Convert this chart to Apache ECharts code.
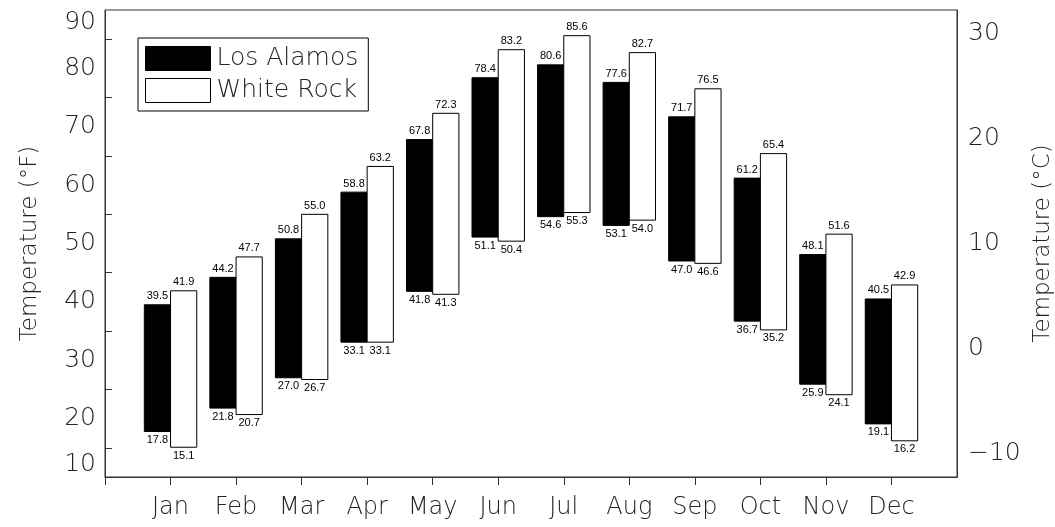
<!DOCTYPE html>
<html>
<head>
<meta charset="utf-8">
<title>Monthly temperature ranges — Los Alamos and White Rock</title>
<script src="https://cdn.jsdelivr.net/npm/echarts@6/dist/echarts.min.js"></script>
<style>
  html, body { margin: 0; padding: 0; background: #fff; }
  #chart { width: 1055px; height: 527px; }
</style>
</head>
<body>
<div id="chart"></div>
<script>
// Month slots: an empty slot at each end so the months sit one step in from the frame
const months = ['', 'Jan', 'Feb', 'Mar', 'Apr', 'May', 'Jun', 'Jul', 'Aug', 'Sep', 'Oct', 'Nov', 'Dec', ''];

// Mean daily minimum / maximum temperatures (°F)
const losAlamosLow  = [17.8, 21.8, 27.0, 33.1, 41.8, 51.1, 54.6, 53.1, 47.0, 36.7, 25.9, 19.1];
const losAlamosHigh = [39.5, 44.2, 50.8, 58.8, 67.8, 78.4, 80.6, 77.6, 71.7, 61.2, 48.1, 40.5];
const whiteRockLow  = [15.1, 20.7, 26.7, 33.1, 41.3, 50.4, 55.3, 54.0, 46.6, 35.2, 24.1, 16.2];
const whiteRockHigh = [41.9, 47.7, 55.0, 63.2, 72.3, 83.2, 85.6, 82.7, 76.5, 65.4, 51.6, 42.9];

// Axis ranges and ticks
const fMin = 10, fMax = 90;
const celsiusTicks = [-10, -5, 0, 5, 10, 15, 20, 25, 30];
const celsiusLabels = [-10, 0, 10, 20, 30];

const toC = f => (f - 32) / 1.8;

const axisFont = 'DejaVu Sans';
const axisWeight = 200;
const labelFont = 'Liberation Sans';
const frameColor = '#333';
const textColor = '#222';

function rangeData(low, high) {
  return low.map((lo, i) => [i + 1, lo, high[i]]);
}

// Floating bar with its high value above and low value below
function makeRenderer(side, fill) {
  return function (params, api) {
    const idx = api.value(0);
    const lo = api.value(1);
    const hi = api.value(2);
    const pLo = api.coord([idx, lo]);
    const pHi = api.coord([idx, hi]);
    const w = api.size([1, 0])[0] * 0.4;
    const x0 = side < 0 ? pLo[0] - w : pLo[0];
    const cx = x0 + w / 2;
    return {
      type: 'group',
      children: [
        {
          type: 'rect',
          shape: { x: x0, y: pHi[1], width: w, height: pLo[1] - pHi[1] },
          style: { fill: fill, stroke: '#000', lineWidth: 1 }
        },
        {
          type: 'text',
          style: {
            text: hi.toFixed(1), x: cx, y: pHi[1] - 3,
            align: 'center', verticalAlign: 'bottom',
            fontSize: 11, fontFamily: labelFont, fill: '#000'
          }
        },
        {
          type: 'text',
          style: {
            text: lo.toFixed(1), x: cx, y: pLo[1] + 3,
            align: 'center', verticalAlign: 'top',
            fontSize: 11, fontFamily: labelFont, fill: '#000'
          }
        }
      ]
    };
  };
}

const chart = echarts.init(document.getElementById('chart'), null, { renderer: 'canvas' });

const axisText = { fontFamily: axisFont, fontWeight: axisWeight, color: textColor };

chart.setOption({
  animation: false,
  backgroundColor: '#fff',
  grid: {
    left: 105, right: 98, top: 10, bottom: 50,
    containLabel: false,
    outerBoundsMode: 'none',
    show: true, borderColor: frameColor, borderWidth: 1
  },
  legend: {
    left: 138, top: 38,
    orient: 'vertical',
    padding: [8, 10, 8, 7],
    itemWidth: 65, itemHeight: 24, itemGap: 7,
    borderColor: '#000', borderWidth: 1,
    icon: 'rect',
    selectedMode: false,
    textStyle: Object.assign({ fontSize: 25, lineHeight: 24, padding: [0, 0, 0, 1] }, axisText),
    data: [
      { name: 'Los Alamos', itemStyle: { color: '#000', borderColor: '#000', borderWidth: 1 } },
      { name: 'White Rock', itemStyle: { color: '#fff', borderColor: '#000', borderWidth: 1 } }
    ]
  },
  xAxis: {
    type: 'category',
    data: months,
    boundaryGap: false,
    axisLine: { onZero: false, lineStyle: { color: frameColor, width: 1 } },
    axisTick: {
      inside: false, length: 8,
      interval: (i) => i <= 12,
      lineStyle: { color: frameColor }
    },
    axisLabel: Object.assign({ interval: 0, margin: 19, fontSize: 24 }, axisText),
    splitLine: { show: false }
  },
  yAxis: [
    {
      type: 'value',
      min: fMin, max: fMax, interval: 10,
      position: 'left',
      name: 'Temperature (°F)',
      nameLocation: 'middle',
      nameGap: 63,
      nameTextStyle: Object.assign({ fontSize: 23 }, axisText),
      axisLine: { show: true, onZero: false, lineStyle: { color: frameColor, width: 1 } },
      axisTick: { inside: true, length: 7, lineStyle: { color: frameColor } },
      minorTick: { show: true, splitNumber: 2, length: 7, lineStyle: { color: frameColor } },
      axisLabel: Object.assign({
        margin: 9, fontSize: 25,
        verticalAlignMinLabel: 'bottom', verticalAlignMaxLabel: 'top'
      }, axisText),
      splitLine: { show: false }
    },
    {
      type: 'value',
      min: toC(fMin), max: toC(fMax),
      position: 'right',
      name: 'Temperature (°C)',
      nameLocation: 'middle',
      nameGap: 68,
      nameTextStyle: Object.assign({ fontSize: 23 }, axisText),
      axisLine: { show: true, onZero: false, lineStyle: { color: frameColor, width: 1 } },
      axisTick: {
        inside: true, length: 7,
        customValues: celsiusTicks,
        lineStyle: { color: frameColor }
      },
      axisLabel: Object.assign({
        margin: 11, fontSize: 25,
        customValues: celsiusLabels,
        formatter: v => (v < 0 ? '\u2212' + Math.abs(v) : String(v))
      }, axisText),
      splitLine: { show: false }
    }
  ],
  series: [
    {
      name: 'Los Alamos',
      type: 'custom',
      itemStyle: { color: '#000' },
      renderItem: makeRenderer(-1, '#000'),
      encode: { x: 0, y: [1, 2] },
      data: rangeData(losAlamosLow, losAlamosHigh)
    },
    {
      name: 'White Rock',
      type: 'custom',
      itemStyle: { color: '#fff', borderColor: '#000', borderWidth: 1 },
      renderItem: makeRenderer(1, '#fff'),
      encode: { x: 0, y: [1, 2] },
      data: rangeData(whiteRockLow, whiteRockHigh)
    }
  ]
});
</script>
</body>
</html>
